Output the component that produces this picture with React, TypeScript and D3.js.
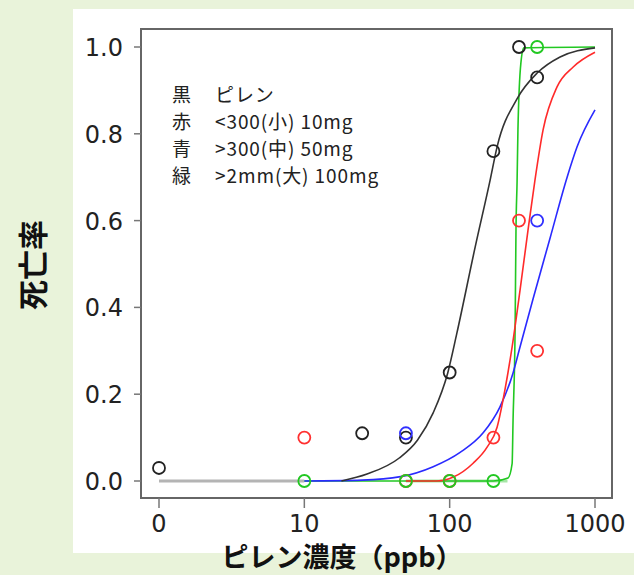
import React from 'react';
import * as d3 from 'd3';

// dose (ppb) vs mortality
const xTicks = [0, 10, 100, 1000];
const yTicks = [0, 0.2, 0.4, 0.6, 0.8, 1.0];

const blackDose = [0, 25, 50, 100, 200, 300, 400];
const blackRate = [0.03, 0.11, 0.10, 0.25, 0.76, 1.0, 0.93];
const redDose = [10, 50, 100, 200, 300, 400];
const redRate = [0.10, 0, 0, 0.10, 0.60, 0.30];
const blueDose = [50, 400];
const blueRate = [0.11, 0.60];
const greenDose = [10, 50, 100, 200, 400];
const greenRate = [0, 0, 0, 0, 1.0];

// fitted curves
const blackFitDose = [18, 27, 45, 60, 77, 97, 112, 150, 190, 212, 290, 400, 575, 1000];
const blackFitRate = [0, 0.016, 0.053, 0.094, 0.157, 0.249, 0.34, 0.54, 0.694, 0.77, 0.88, 0.94, 0.977, 0.998];
const redFitDose = [50, 82, 106, 145, 181, 212, 240, 269, 305, 346, 385, 440, 548, 708, 1000];
const redFitRate = [0, 0, 0.009, 0.041, 0.078, 0.124, 0.21, 0.309, 0.44, 0.578, 0.69, 0.81, 0.908, 0.954, 0.988];
const blueFitDose = [10, 25, 46, 77, 118, 170, 222, 273, 300, 375, 491, 643, 753, 1000];
const blueFitRate = [0, 0.002, 0.01, 0.033, 0.066, 0.111, 0.171, 0.249, 0.30, 0.42, 0.56, 0.70, 0.77, 0.855];
const greenFitDose = [10, 50, 100, 200, 252, 269, 273, 282, 286, 291, 295, 309, 324, 1000];
const greenFitRate = [0, 0, 0, 0, 0.007, 0.04, 0.14, 0.35, 0.58, 0.69, 0.81, 0.963, 0.998, 1.0];
const greyFitDose = [0, 10];
const greyFitRate = [0, 0];
const paleGreenDose = [50, 250];
const paleGreenRate = [0, 0];

const legendKeys = ['黒', '赤', '青', '緑'];
const legendLabels = ['ピレン', '<300(小) 10mg', '>300(中) 50mg', '>2mm(大) 100mg'];

const W = 634;
const H = 575;
const box = { left: 141, top: 29, right: 612, bottom: 498 };

export default function App() {
  const x = d3.scaleLog().domain([1, 1000]).range([159, 595]);
  const y = d3.scaleLinear().domain([0, 1]).range([481, 47]);
  const xp = (d: number) => x(d === 0 ? 1 : d);

  const line = d3.line<[number, number]>()
    .x(d => xp(d[0]))
    .y(d => y(d[1]))
    .curve(d3.curveMonotoneX);

  const zip = (a: number[], b: number[]) => a.map((d, i) => [d, b[i]] as [number, number]);

  const curves = [
    { dose: greyFitDose, rate: greyFitRate, color: '#b4b4b4', w: 3 },
    { dose: paleGreenDose, rate: paleGreenRate, color: '#a6e6a6', w: 3 },
    { dose: greenFitDose, rate: greenFitRate, color: '#22c822', w: 1.6 },
    { dose: blueFitDose, rate: blueFitRate, color: '#2a2aff', w: 1.6 },
    { dose: redFitDose, rate: redFitRate, color: '#ff2a2a', w: 1.6 },
    { dose: blackFitDose, rate: blackFitRate, color: '#333333', w: 1.6 },
  ];

  const points = [
    { dose: blackDose, rate: blackRate, color: '#222222' },
    { dose: redDose, rate: redRate, color: '#ff3030' },
    { dose: blueDose, rate: blueRate, color: '#3030ff' },
    { dose: greenDose, rate: greenRate, color: '#22c822' },
  ];

  return (
    <svg width={W} height={H} style={{ position: 'absolute', left: 0, top: 0 }}>
      <rect x={0} y={0} width={W} height={H} fill="#e9f3da" />
      <rect x={73} y={9} width={W - 73} height={544} fill="#ffffff" />

      {/* fitted curves */}
      {curves.map((c, i) => (
        <path key={i} d={line(zip(c.dose, c.rate)) || ''} fill="none" stroke={c.color} strokeWidth={c.w} />
      ))}

      {/* observed points */}
      {points.map((s, i) => s.dose.map((d, j) => (
        <circle key={i + '-' + j} cx={xp(d)} cy={y(s.rate[j])} r={6} fill="none" stroke={s.color} strokeWidth={1.8} />
      )))}

      {/* frame */}
      <rect x={box.left} y={box.top} width={box.right - box.left} height={box.bottom - box.top}
        fill="none" stroke="#666" strokeWidth={2} />

      {/* y axis */}
      {yTicks.map(t => (
        <g key={t}>
          <line x1={134} x2={box.left} y1={y(t)} y2={y(t)} stroke="#777" strokeWidth={1.5} />
          <text x={123} y={y(t) + 9} textAnchor="end" fontFamily="DejaVu Sans" fontSize={24} fill="#222">
            {t.toFixed(1)}
          </text>
        </g>
      ))}

      {/* x axis */}
      {xTicks.map(t => (
        <g key={t}>
          <line x1={xp(t)} x2={xp(t)} y1={box.bottom} y2={508} stroke="#777" strokeWidth={1.5} />
          <text x={xp(t)} y={532} textAnchor="middle" fontFamily="DejaVu Sans" fontSize={24} fill="#222">
            {t}
          </text>
        </g>
      ))}

      {/* legend note */}
      {legendKeys.map((k, i) => (
        <g key={k} fontFamily="'Noto Sans CJK JP'" fontSize={19} fill="#222">
          <text x={172} y={102 + i * 27}>{k}</text>
          <text x={215} y={102 + i * 27} letterSpacing={0.9}>{legendLabels[i]}</text>
        </g>
      ))}

      {/* axis titles */}
      <text x={342} y={567} textAnchor="middle" fontFamily="'Noto Sans CJK JP'" fontWeight="bold" fontSize={27} fill="#111">
        ピレン濃度（ppb）
      </text>
      <text transform="translate(44,265) rotate(-90)" textAnchor="middle" fontFamily="'Noto Sans CJK JP'"
        fontWeight="bold" fontSize={30} fill="#111">
        死亡率
      </text>
    </svg>
  );
}
